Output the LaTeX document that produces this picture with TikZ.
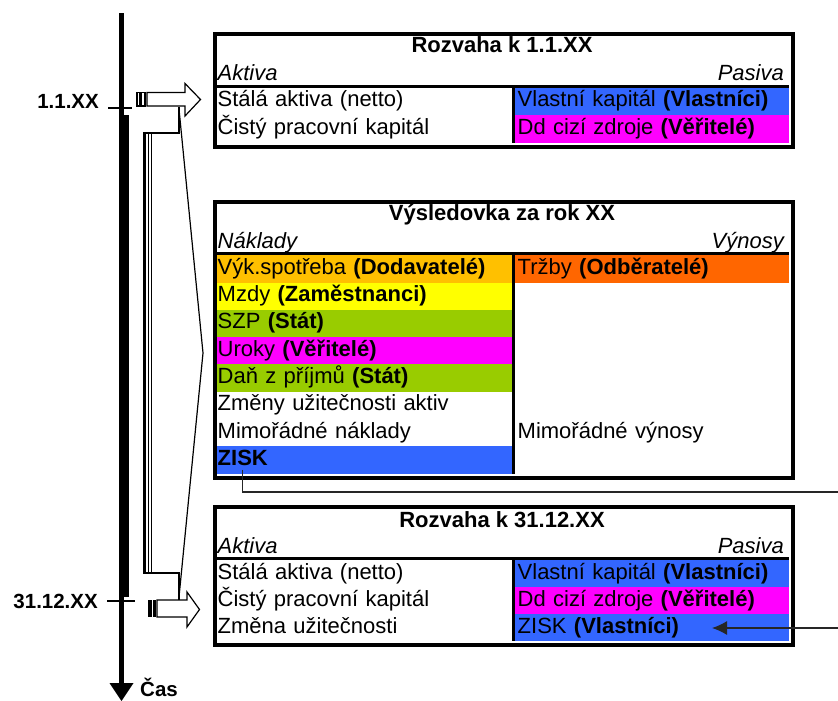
\documentclass[tikz,border=0pt]{standalone}
\usepackage{fontspec}
\setmainfont{Liberation Sans}
\usetikzlibrary{calc,arrows.meta}
\definecolor{cBlue}{HTML}{3366FF}
\definecolor{cMag}{HTML}{FF00FF}
\definecolor{cGold}{HTML}{FFC000}
\definecolor{cYel}{HTML}{FFFF00}
\definecolor{cGrn}{HTML}{99CC00}
\definecolor{cOrg}{HTML}{FF6600}
\begin{document}
\begin{tikzpicture}[x=1pt,y=-1pt,
  every node/.style={inner sep=0pt},
  txt/.style={font=\fontsize{22}{26}\selectfont},
  cell/.style={txt, anchor=north west, minimum height=#1, text height=16pt,
    text depth=5pt, inner xsep=2.5pt, inner ysep=0pt, align=left},
  lcell/.style={cell=#1, text width=292pt},
  rcell/.style={cell=#1, text width=269pt},
  frame/.style={draw, line width=4pt, anchor=north west, minimum width=578pt},
  rule/.style={line width=3pt},
  ttl/.style={font=\fontsize{22}{26}\selectfont\bfseries, anchor=base},
  hd/.style={font=\fontsize{22}{26}\selectfont\itshape},
  lab/.style={font=\fontsize{20.5}{24}\selectfont\bfseries},
  thinline/.style={line width=1.2pt},
  conn/.style={line width=1.3pt, black!85},
]
\useasboundingbox (0,0) rectangle (838,701);
\clip (0,0) rectangle (838,701);

% ---------- time axis ----------
\fill (119,13) rectangle (124,684);
\fill (119,115) rectangle (129,597);
\fill (109.5,683) -- (133.5,683) -- (121.5,701) -- cycle;
\draw[thinline] (108,108) -- (132,108);
\draw[thinline] (107,601) -- (135,601);
\node[lab, anchor=base east] (d1) at (99,108.5) {1.1.XX};
\node[lab, anchor=base east] (d2) at (98,608.5) {31.12.XX};
\node[lab, anchor=base west] (cas) at (140,696) {Čas};

% ---------- link between the two balance dates ----------
\draw[thinline] (179,107) -- (179,133) -- (143.5,133) -- (143.5,573) -- (179,573) -- (179,600);
\draw[line width=2pt] (144.5,133) -- (144.5,573);
\draw[line width=1pt] (148.5,133) -- (148.5,573);
\draw[line width=1.2pt] (151.5,133) -- (151.5,573);
\draw[thinline] (179,109) -- (203,353) -- (179,597);

% striped arrow at 1.1.XX
\draw[thinline] (137,92.5) rectangle (139.5,106);
\draw[thinline] (141,92.5) rectangle (145,106);
\draw[thinline, fill=white] (147,92.5) -- (185,92.5) -- (185,83.5) -- (200.5,99.5)
  -- (185,116) -- (185,106) -- (147,106) -- cycle;

% striped arrow at 31.12.XX
\fill (148,600) rectangle (151.5,617);
\fill (153,600) rectangle (155.5,617);
\draw[thinline, fill=white] (157,600) -- (187,600) -- (187,592) -- (199.5,609.5)
  -- (187,627) -- (187,617) -- (157,617) -- cycle;

% ---------- Rozvaha k 1.1.XX ----------
\node[lcell=27.5] (b1a) at (215,87.5) {Stálá aktiva (netto)};
\node[lcell=28] (b1b) at (215,115) {Čistý pracovní kapitál};
\node[rcell=27.5, fill=cBlue] (b1c) at (515,87.5) {Vlastní kapitál \textbf{(Vlastníci)}};
\node[rcell=28, fill=cMag] (b1d) at (515,115) {Dd cizí zdroje \textbf{(Věřitelé)}};
\node[frame, minimum height=113pt] (t1) at (213,32) {};
\draw[rule] (215,86) -- (789,86);
\draw[rule] (513.5,87.5) -- (513.5,143);
\node[ttl] (t1t) at (502,53) {Rozvaha k 1.1.XX};
\node[hd, anchor=base west] (t1l) at (217.5,81) {Aktiva};
\node[hd, anchor=base east] (t1r) at (784,81) {Pasiva};

% ---------- Výsledovka za rok XX ----------
\node[lcell=27.3, fill=cGold] (v1) at (215,255) {Výk.spotřeba \textbf{(Dodavatelé)}};
\node[lcell=27.3, fill=cYel] (v2) at (215,282.3) {Mzdy \textbf{(Zaměstnanci)}};
\node[lcell=27.3, fill=cGrn] (v3) at (215,309.6) {SZP \textbf{(Stát)}};
\node[lcell=27.3, fill=cMag] (v4) at (215,336.9) {Uroky \textbf{(Věřitelé)}};
\node[lcell=27.3, fill=cGrn] (v5) at (215,364.2) {Daň z příjmů \textbf{(Stát)}};
\node[lcell=27.3] (v6) at (215,391.5) {Změny užitečnosti aktiv};
\node[lcell=27.3] (v7) at (215,418.8) {Mimořádné náklady};
\node[lcell=27.4, fill=cBlue] (v8) at (215,446.1) {};
\node[txt, anchor=base west] (zisk) at (217.5,465.4) {\textbf{ZISK}};
\node[rcell=27.3, fill=cOrg] (w1) at (515,255) {Tržby \textbf{(Odběratelé)}};
\node[rcell=27.3] (w2) at (515,418.8) {Mimořádné výnosy};
\node[frame, minimum height=275.5pt] (t2) at (213,200) {};
\draw[rule] (215,253.5) -- (789,253.5);
\draw[rule] (513.5,255) -- (513.5,473.5);
\node[ttl] (t2t) at (502,220) {Výsledovka za rok XX};
\node[hd, anchor=base west] (t2l) at (217.5,248) {Náklady};
\node[hd, anchor=base east] (t2r) at (784,248) {Výnosy};

% ---------- Rozvaha k 31.12.XX ----------
\node[lcell=27] (e1a) at (215,560) {Stálá aktiva (netto)};
\node[lcell=27] (e1b) at (215,587) {Čistý pracovní kapitál};
\node[lcell=27] (e1c) at (215,614) {Změna užitečnosti};
\node[rcell=27, fill=cBlue] (e1d) at (515,560) {Vlastní kapitál \textbf{(Vlastníci)}};
\node[rcell=27, fill=cMag] (e1e) at (515,587) {Dd cizí zdroje \textbf{(Věřitelé)}};
\node[rcell=27, fill=cBlue] (e1f) at (515,614) {ZISK \textbf{(Vlastníci)}};
\node[frame, minimum height=138pt] (t3) at (213,505) {};
\draw[rule] (215,558.5) -- (789,558.5);
\draw[rule] (513.5,560) -- (513.5,641);
\node[ttl] (t3t) at (502,527) {Rozvaha k 31.12.XX};
\node[hd, anchor=base west] (t3l) at (217.5,553.5) {Aktiva};
\node[hd, anchor=base east] (t3r) at (784,553.5) {Pasiva};

% ---------- profit carried into the closing balance ----------
\coordinate (farA) at (850,492);
\coordinate (ztip) at (712,628);
\draw[conn, -{Latex[length=15pt,width=14pt]}] ([yshift=-4pt]zisk.south) |- (farA) |- (ztip);
\end{tikzpicture}
\end{document}
